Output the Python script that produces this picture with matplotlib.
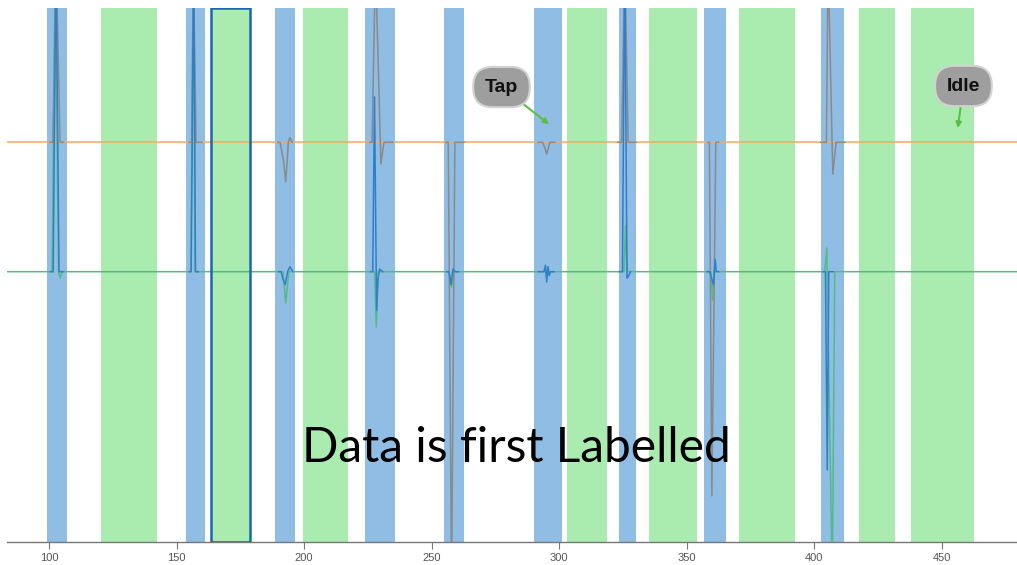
import numpy as np
import matplotlib
matplotlib.use("Agg")
import matplotlib.pyplot as plt

nan = np.nan

# Labelled regions (x-units)
tap_start = [99.1, 153.6, 188.6, 223.9, 254.9, 290.2, 323.3, 356.6, 402.6]
tap_end   = [107.2, 161.1, 196.5, 235.6, 262.8, 301.0, 330.1, 365.3, 411.5]
idle_start = [120.4, 163.4, 199.7, 303.1, 335.3, 370.6, 417.7, 438.0]
idle_end   = [142.2, 178.8, 217.3, 318.9, 354.2, 392.3, 431.5, 462.7]
selected_idle = 1  # index of the outlined idle region

# Channel 1 (baseline 1.0)
orange_x = [83.5, 479.5]
orange_y = [1.0, 1.0]
gray_x = [100.4, 101.45, 102.8, 104.3, 105.6, nan,
          155.0, 155.93, 156.56, 157.62, 159.85, nan,
          189.8, 190.54, 192.0, 192.77, 193.5, 193.79, 194.46, 195.3, nan,
          225.8, 226.65, 227.97, 230.1, 231.3, 234.8, nan,
          255.6, 256.5, 257.8, 259.1, 262.7, nan,
          291.7, 293.5, 294.5, 295.07, 295.7, 296.36, 298.3, nan,
          323.0, 324.46, 325.76, 327.05, 330.1, nan,
          358.4, 358.9, 359.86, 361.4, 362.5, nan,
          402.6, 404.77, 405.43, 407.28, 408.57, 412.0]
gray_y = [1, 1, 2.4, 1, 1, nan,
          1, 1, 2.4, 1, 1, nan,
          1, 1, 0.85, 0.696, 0.9, 1.0, 1.036, 1, nan,
          1, 1, 2.4, 0.833, 1, 1, nan,
          1, 1, -2.4, 1, 1, nan,
          1, 1, 0.95, 0.91, 0.95, 1, 1, nan,
          1, 1, 2.4, 1, 1, nan,
          1, 1, -1.733, 1, 1, nan,
          1, 1, 2.4, 0.753, 1, 1]

# Channel 2 (baseline 0.0)
green_x = [83.5, 101.2, 102.4, 103.7, 104.3, 105.1,
           155.54, 156.64, 157.22,
           191.7, 192.77, 194.0,
           227.6, 228.3, 229.0,
           256.9, 257.8, 258.8,
           325.4, 326.0, 326.6,
           359.6, 360.1, 360.7,
           404.1, 404.9, 407.07, 408.05, 479.5]
green_y = [0, 0, 2.4, 0, -0.05, 0,
           0, 2.4, 0,
           0, -0.242, 0,
           0, -0.427, 0,
           0, -0.12, 0,
           0, 0.353, 0,
           0, -0.22, 0,
           0, 0.183, -2.4, 0, 0]
blue_x = [100.5, 101.6, 102.7, 103.9, 105.5, nan,
          155.0, 155.7, 156.7, 157.4, 158.5, nan,
          190.0, 191.0, 191.8, 192.6, 193.5, 194.46, 195.5, nan,
          226.0, 226.9, 227.6, 228.4, 229.0, 229.6, 230.8, nan,
          256.0, 256.8, 257.6, 258.4, 259.2, 260.5, nan,
          291.8, 294.0, 294.6, 295.1, 295.6, 296.1, 296.6, 298.0, nan,
          323.5, 324.8, 325.7, 326.6, 327.05, 328.0, nan,
          358.0, 359.0, 360.5, 361.15, 361.6, 362.5, nan,
          403.5, 404.4, 405.1, 405.7, 407.5]
blue_y = [0, 0, 2.4, 0, 0, nan,
          0, 0, 2.4, 0, 0, nan,
          0, 0, -0.064, -0.1, 0.0, 0.039, 0, nan,
          0, 0, 1.35, -0.3, -0.05, 0.02, 0, nan,
          0, 0, -0.1, 0.02, 0, 0, nan,
          0, 0, 0.05, -0.08, 0.04, -0.03, 0, 0, nan,
          0, 0, 2.4, -0.05, -0.039, 0, nan,
          0, 0, -0.1, 0.096, 0, 0, nan,
          0, 0, -1.532, 0, 0]

xticks = [100, 150, 200, 250, 300, 350, 400, 450]

fig = plt.figure(figsize=(10.17, 5.65), dpi=100)
ax = fig.add_axes([7 / 1017, 1 - 541.7 / 565, 1 - 7 / 1017, (541.7 - 8) / 565])
ax.set_xlim(83.5, 479.5)
ax.set_ylim(-2.087, 2.038)

for s, e in zip(tap_start, tap_end):
    ax.axvspan(s, e, color="#90bde4", lw=0, zorder=1)
for i, (s, e) in enumerate(zip(idle_start, idle_end)):
    ax.axvspan(s, e, color="#aaebb0", lw=0, zorder=1)
    if i == selected_idle:
        ax.axvspan(s, e, facecolor="none", edgecolor="#1a66b0", lw=1.8, zorder=5)

ax.plot(orange_x, orange_y, color="#f5a965", lw=1.1, zorder=3)
ax.plot(gray_x, gray_y, color="#8a8a8a", lw=1.1, zorder=4)
ax.plot(green_x, green_y, color="#55bb85", lw=1.1, zorder=3)
ax.plot(blue_x, blue_y, color="#2f7fc8", lw=1.1, zorder=4)

for sp in ["left", "right", "top"]:
    ax.spines[sp].set_visible(False)
ax.spines["bottom"].set_color("#777777")
ax.spines["bottom"].set_linewidth(1.0)
ax.set_yticks([])
ax.set_xticks(xticks)
ax.set_xticklabels([str(t) for t in xticks], fontsize=8, color="#555555",
                   family="Liberation Sans")
ax.tick_params(axis="x", length=5, width=0.8, color="#777777", pad=3)

bubble = dict(boxstyle="round,pad=0.6,rounding_size=1.0", facecolor="#9e9e9e",
              edgecolor="#d2d2d2", lw=1.5)
arrow = dict(arrowstyle="-|>", color="#5cbf45", lw=1.5, mutation_scale=8,
             shrinkA=0, shrinkB=0)
ax.annotate("Tap", xy=(296.0, 1.14), xytext=(277.4, 1.427), textcoords="data",
            ha="center", va="center", fontsize=14, fontweight="bold",
            family="Liberation Sans", color="#111111", bbox=bubble,
            arrowprops=arrow, zorder=10)
ax.annotate("Idle", xy=(456.3, 1.11), xytext=(458.5, 1.435), textcoords="data",
            ha="center", va="center", fontsize=14, fontweight="bold",
            family="Liberation Sans", color="#111111", bbox=bubble,
            arrowprops=arrow, zorder=10)

fig.text(516.5 / 1017, 1 - 461.7 / 565, "Data is first Labelled", ha="center",
         va="baseline", fontsize=34.5, family="Lato", color="#000000", zorder=20)

fig.savefig("out.png", dpi=100)
